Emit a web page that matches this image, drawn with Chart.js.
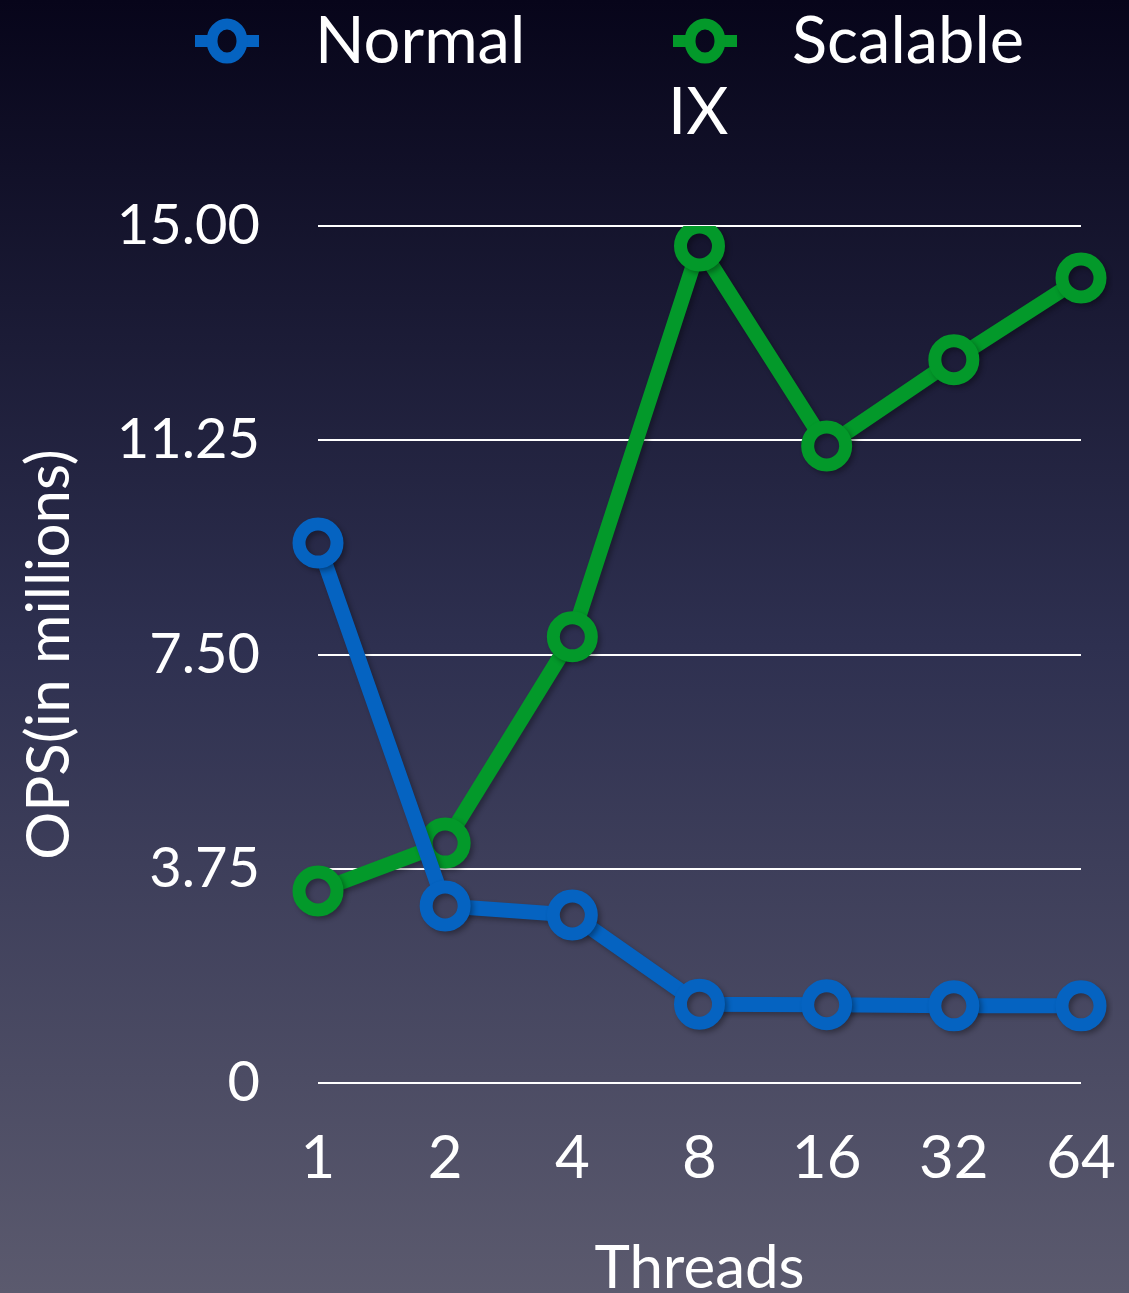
<!DOCTYPE html>
<html>
<head>
<meta charset="utf-8">
<script src="https://cdn.jsdelivr.net/npm/chart.js@4.4.1/dist/chart.umd.min.js"></script>
<style>
  html, body { margin: 0; padding: 0; background: #07061a; overflow: hidden; }
  canvas { display: block; }
</style>
</head>
<body>
<canvas id="chart" width="1129" height="1293"></canvas>
<script>
// Thread counts and throughput (millions of operations per second)
const threads = ['1', '2', '4', '8', '16', '32', '64'];
const normalOps = [9.45, 3.10, 2.94, 1.38, 1.37, 1.35, 1.35];
const scalableOps = [3.36, 4.20, 7.81, 14.65, 11.15, 12.66, 14.09];
const yTickLabels = ['0', '3.75', '7.50', '11.25', '15.00'];
const seriesNames = ['Normal', 'Scalable IX'];
const seriesColors = ['#0563c1', '#03992a'];

const FONT = 'Lato, "Open Sans", sans-serif';

// Backdrop gradient, shared by the canvas fill and the hollow point centres
let bgGradient = null;
function backdrop(chart) {
  if (!bgGradient) {
    const g = chart.ctx.createLinearGradient(0, 0, 0, chart.height);
    g.addColorStop(0, '#07051a');
    g.addColorStop(0.5, '#2e3050');
    g.addColorStop(1, '#5b5a6e');
    bgGradient = g;
  }
  return bgGradient;
}

const backgroundPlugin = {
  id: 'backdrop',
  beforeDraw(chart) {
    const ctx = chart.ctx;
    ctx.save();
    ctx.fillStyle = backdrop(chart);
    ctx.fillRect(0, 0, chart.width, chart.height);
    ctx.restore();
  }
};

// Soft drop shadow under the series lines
const shadowPlugin = {
  id: 'lineShadow',
  beforeDatasetsDraw(chart) {
    const ctx = chart.ctx;
    ctx.save();
    ctx.shadowColor = 'rgba(0, 0, 0, 0.3)';
    ctx.shadowBlur = 5;
    ctx.shadowOffsetX = 3;
    ctx.shadowOffsetY = 3;
  },
  afterDatasetsDraw(chart) {
    chart.ctx.restore();
  }
};

// Legend: line-and-ring marker followed by the series name (second word wraps)
const legendPlugin = {
  id: 'wrapLegend',
  afterDraw(chart) {
    const ctx = chart.ctx;
    const items = [
      { markerX: 227, textX: 315 },
      { markerX: 705, textX: 792 }
    ];
    ctx.save();
    chart.data.datasets.forEach((ds, i) => {
      const it = items[i];
      const cy = 41;
      ctx.strokeStyle = ds.borderColor;
      ctx.lineWidth = 12;
      ctx.beginPath();
      ctx.moveTo(it.markerX - 32, cy);
      ctx.lineTo(it.markerX - 15, cy);
      ctx.moveTo(it.markerX + 15, cy);
      ctx.lineTo(it.markerX + 32, cy);
      ctx.stroke();
      ctx.beginPath();
      ctx.ellipse(it.markerX, cy, 15, 17, 0, 0, Math.PI * 2);
      ctx.fillStyle = backdrop(chart);
      ctx.fill();
      ctx.lineWidth = 11;
      ctx.stroke();

      const words = ds.label.split(' ');
      ctx.fillStyle = '#ffffff';
      ctx.font = '65px ' + FONT;
      ctx.textAlign = 'left';
      ctx.textBaseline = 'alphabetic';
      ctx.fillText(words[0], it.textX, 63);
      if (words.length > 1) {
        ctx.fillText(words.slice(1).join(' '), it.markerX - 37, 134);
      }
    });
    ctx.restore();
  }
};

function dataset(label, values, color) {
  return {
    label: label,
    data: values,
    borderColor: color,
    borderWidth: 15,
    pointRadius: 19,
    pointHoverRadius: 19,
    pointBorderWidth: 13,
    pointBorderColor: color,
    pointBackgroundColor: (c) => backdrop(c.chart),
    tension: 0,
    fill: false
  };
}

new Chart(document.getElementById('chart'), {
  type: 'line',
  data: {
    labels: threads,
    datasets: [
      dataset(seriesNames[0], normalOps, seriesColors[0]),
      dataset(seriesNames[1], scalableOps, seriesColors[1])
    ]
  },
  options: {
    responsive: false,
    animation: false,
    layout: { padding: { top: 226, right: 48, left: 0, bottom: 0 } },
    plugins: {
      legend: { display: false },
      tooltip: { enabled: false }
    },
    scales: {
      x: {
        type: 'category',
        offset: false,
        grid: { display: false, drawTicks: false },
        border: { display: false },
        ticks: {
          color: '#ffffff',
          font: { family: FONT, size: 60 },
          padding: 40,
          maxRotation: 0
        },
        title: {
          display: true,
          text: 'Threads',
          color: '#ffffff',
          font: { family: FONT, size: 60, lineHeight: 1 },
          padding: { top: 0, bottom: -6 }
        },
        afterFit(scale) {
          scale.height = 210;
          // end labels may overhang; the layout padding already leaves room
          scale.paddingLeft = 0;
          scale.paddingRight = 0;
        }
      },
      y: {
        min: 0,
        max: 15,
        grid: { color: '#ffffff', lineWidth: 2, drawTicks: false },
        border: { display: false },
        ticks: {
          stepSize: 3.75,
          color: '#ffffff',
          font: { family: FONT, size: 56 },
          padding: 58,
          callback: (v, i) => yTickLabels[i]
        },
        title: {
          display: true,
          text: 'OPS(in millions)',
          color: '#ffffff',
          font: { family: FONT, size: 60, lineHeight: 1 },
          padding: { top: 20, bottom: 0 }
        },
        afterFit(scale) { scale.width = 318; }
      }
    }
  },
  plugins: [backgroundPlugin, shadowPlugin, legendPlugin]
});
</script>
</body>
</html>
